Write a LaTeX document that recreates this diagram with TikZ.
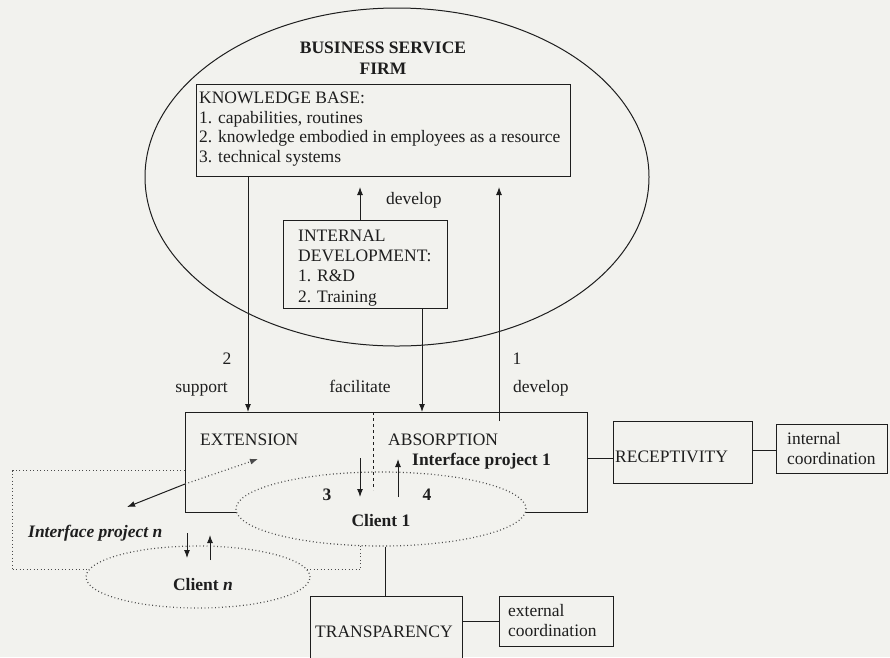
\documentclass[tikz,border=0pt]{standalone}
\usepackage{fontspec}
\setmainfont{Liberation Serif}
\usetikzlibrary{arrows.meta,shapes.geometric,calc}
\definecolor{bg}{RGB}{242,242,238}
\definecolor{ink}{RGB}{30,30,30}
\begin{document}
\begin{tikzpicture}[x=1pt,y=-1pt,
  font=\fontsize{17.5}{19.5}\selectfont, text=ink,
  box/.style={draw=ink, line width=1pt, inner sep=0pt, anchor=north west, fill=bg},
  txt/.style={inner sep=0pt, anchor=base west, align=left},
  ctxt/.style={inner sep=0pt, anchor=base, align=center},
  arr/.style={draw=ink, line width=1pt, -{Latex[length=8pt,width=6pt]}},
  ln/.style={draw=ink, line width=1pt},
  dotln/.style={draw=ink!80, line width=1.2pt, dash pattern=on 0.9pt off 2.6pt},
]
\useasboundingbox (0,0) rectangle (890,657);
\fill[bg] (0,0) rectangle (890,657);

% firm ellipse
\node[draw=ink, line width=1pt, ellipse, minimum width=504pt, minimum height=338pt, inner sep=0pt] (firm) at (397,177) {};
\node[ctxt, font=\fontsize{17.5}{21}\selectfont\bfseries] (firmt) at (383,74) {BUSINESS SERVICE\\FIRM};

% knowledge base
\node[box, minimum width=374pt, minimum height=92pt] (kb) at (196,84) {};
\node[txt] (kbt) at (199,162) {KNOWLEDGE BASE:\\1. capabilities, routines\\2. knowledge embodied in employees as a resource\\3. technical systems};

% internal development
\node[box, minimum width=164pt, minimum height=88pt] (idev) at (283,220) {};
\node[txt, font=\fontsize{17.5}{20.3}\selectfont] (idevt) at (298,302) {INTERNAL\\DEVELOPMENT:\\1. R\&D\\2. Training};

% interface project n (dotted frame)
\node[draw=ink!80, line width=1.2pt, dash pattern=on 0.9pt off 2.6pt, inner sep=0pt, anchor=north west, minimum width=348pt, minimum height=99pt] (ipn) at (12,470) {};

% extension / absorption box
\node[box, minimum width=402pt, minimum height=100pt] (ext) at (185,412) {};

% client ellipses
\node[ellipse, dotln, fill=bg, minimum width=290pt, minimum height=74pt, inner sep=0pt] (c1) at (381,509) {};
\node[ellipse, dotln, fill=bg, minimum width=224pt, minimum height=62pt, inner sep=0pt] (cn) at (198,577) {};

% divider
\draw[draw=ink, line width=0.8pt, dash pattern=on 3pt off 3pt] (ext.north -| 373,0) -- (373,490);

% receptivity / transparency
\node[box, minimum width=139pt, minimum height=62pt] (rec) at (613,421) {};
\node[box, minimum width=111pt, minimum height=49pt] (intc) at (776,424) {};
\node[box, minimum width=152pt, minimum height=90pt] (tr) at (310,596) {};
\node[box, minimum width=114pt, minimum height=50pt] (extc) at (499,596) {};

% coordinates
\coordinate (devtip) at (360,187);
\coordinate (dev1tip) at (499,187);
\coordinate (dev1start) at (499,421);
\coordinate (exttip) at (258,459);
\coordinate (ipntip) at (127,507);
\coordinate (extleft) at (185,484);

% connectors
\draw[arr] (idev.north -| devtip) -- (devtip);
\draw[arr] (dev1start) -- (dev1tip);
\draw[arr] (kb.south -| 248,0) -- (ext.north -| 248,0);
\draw[arr] (idev.south -| 422,0) -- (ext.north -| 422,0);
\draw[arr] (360,458) -- (360,497);
\draw[arr] (398,497) -- (398,459);
\draw[arr] (187,533) -- (187,558);
\draw[arr] (210,560) -- (210,535);
\draw[arr] (extleft) -- (ipntip);
\draw[dotln, -{Latex[length=8pt,width=6pt]}] (extleft) -- (exttip);
\draw[ln] (ext.east |- 0,458) -- (rec.west |- 0,458);
\draw[ln] (rec.east |- 0,450) -- (intc.west |- 0,450);
\draw[ln] (c1.south -| 385,0) -- (tr.north -| 385,0);
\draw[ln] (tr.east |- extc.west) -- (extc.west);

% labels
\node[txt] (devl) at (386,204) {develop};
\node[inner sep=0pt, anchor=base] (l2) at (227,364) {2};
\node[inner sep=0pt, anchor=base east] (lsup) at (228,392) {support};
\node[ctxt] (lfac) at (360,392) {facilitate};
\node[inner sep=0pt, anchor=base] (l1) at (517,364) {1};
\node[txt] (ldev) at (513,392) {develop};
\node[txt] (lextn) at (200,445) {EXTENSION};
\node[txt] (labs) at (388,445) {ABSORPTION};
\node[txt, font=\fontsize{17.5}{19.5}\selectfont\bfseries] (lip1) at (412,465) {Interface project 1};
\node[ctxt, font=\fontsize{17.5}{19.5}\selectfont\bfseries] (lc1) at (381,526) {Client 1};
\node[ctxt, font=\fontsize{17.5}{19.5}\selectfont\bfseries] (l3) at (327,500) {3};
\node[ctxt, font=\fontsize{17.5}{19.5}\selectfont\bfseries] (l4) at (427,500) {4};
\node[txt, font=\fontsize{17.5}{19.5}\selectfont\bfseries\itshape] (lipn) at (28,537) {Interface project n};
\node[ctxt, font=\fontsize{17.5}{19.5}\selectfont\bfseries] (lcn) at (203,590) {Client \textit{n}};
\node[txt] (lrec) at (615,462) {RECEPTIVITY};
\node[txt] (lintc) at (787,464) {internal\\coordination};
\node[txt] (ltr) at (315,637) {TRANSPARENCY};
\node[txt] (lextc) at (508,636) {external\\coordination};
\end{tikzpicture}
\end{document}
